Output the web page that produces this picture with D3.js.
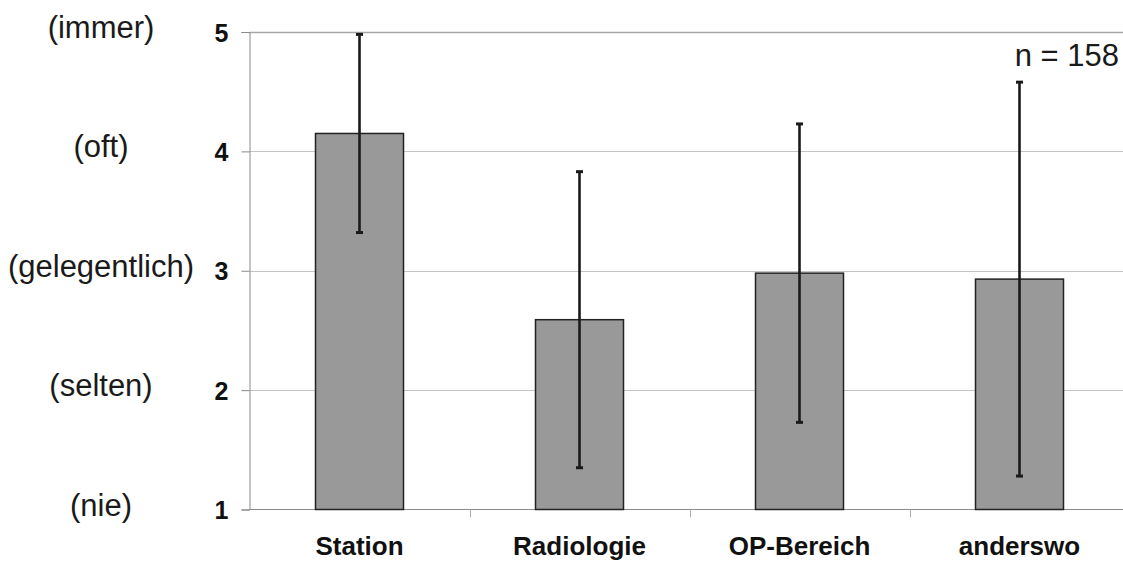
<!DOCTYPE html>
<html>
<head>
<meta charset="utf-8">
<script src="https://cdn.jsdelivr.net/npm/d3@7"></script>
<style>
  body { margin: 0; background: #fff; }
  svg { display: block; font-family: Arial, "Liberation Sans", sans-serif; }
</style>
</head>
<body>
<div class="container"></div>
<script>
// data
const categories = ['Station', 'Radiologie', 'OP-Bereich', 'anderswo']
const means = [4.15, 2.59, 2.98, 2.93]
const sds = [0.83, 1.24, 1.25, 1.65]
const yTicks = [1, 2, 3, 4, 5]
const scaleLabels = ['(nie)', '(selten)', '(gelegentlich)', '(oft)', '(immer)']
const note = 'n = 158'

const width = 1123
const height = 561

const svg = d3.select('.container')
    .append('svg')
    .attr('width', width)
    .attr('height', height)

const y = d3.scaleLinear().domain([1, 5]).range([509.5, 32])
const x = d3.scaleBand()
    .domain(categories)
    .range([249.5, 1129.5])
    .paddingInner(0.6)
    .paddingOuter(0.3)

const data = categories.map((c, i) => ({cat: c, mean: means[i], sd: sds[i]}))

// gridlines
svg.selectAll('.grid')
    .data(yTicks.filter(t => t > 1))
    .enter().append('line')
    .attr('x1', 249.5)
    .attr('x2', width)
    .attr('y1', d => Math.round(y(d)) + 0.5)
    .attr('y2', d => Math.round(y(d)) + 0.5)
    .style('stroke', d => d === 5 ? '#a6a6a6' : '#c4c4c4')
    .style('stroke-width', d => d === 5 ? 1.5 : 1)

// y axis
const yAxis = svg.append('g')
    .attr('transform', 'translate(249.5,0)')
    .call(d3.axisLeft(y).tickValues(yTicks).tickFormat(d3.format('d')).tickSize(8).tickPadding(13))
yAxis.select('.domain').style('stroke', '#8a8a8a')
yAxis.selectAll('.tick line').style('stroke', '#8a8a8a')
yAxis.selectAll('.tick text')
    .style('font-size', '25px')
    .style('font-weight', 'bold')
    .style('fill', '#111')
    .attr('dy', '0.36em')

// x axis
const xAxis = svg.append('g')
    .attr('transform', 'translate(0,' + (y(1)) + ')')
    .call(d3.axisBottom(x).tickSize(0).tickPadding(27))
xAxis.select('.domain').remove()
svg.append('line')
    .attr('x1', 249.5).attr('x2', width)
    .attr('y1', y(1)).attr('y2', y(1))
    .style('stroke', '#8a8a8a')
xAxis.selectAll('.tick text')
    .style('font-size', '26px')
    .style('font-weight', 'bold')
    .style('fill', '#111')

// category separators
const step = x.step()
svg.selectAll('.sep')
    .data(categories.slice(1))
    .enter().append('line')
    .attr('x1', d => Math.round(x(d) - step * 0.3) + 0.5)
    .attr('x2', d => Math.round(x(d) - step * 0.3) + 0.5)
    .attr('y1', y(1))
    .attr('y2', y(1) + 8)
    .style('stroke', '#b0b0b0')

// bars
svg.selectAll('.bar')
    .data(data)
    .enter().append('rect')
    .attr('x', d => x(d.cat))
    .attr('width', x.bandwidth())
    .attr('y', d => y(d.mean))
    .attr('height', d => y(1) - y(d.mean))
    .style('fill', '#999999')
    .style('stroke', '#222')
    .style('stroke-width', 1.5)

// error bars
const err = svg.selectAll('.err')
    .data(data)
    .enter().append('g')
    .attr('transform', d => 'translate(' + (x(d.cat) + x.bandwidth() / 2) + ',0)')
err.append('line')
    .attr('y1', d => y(d.mean + d.sd))
    .attr('y2', d => y(d.mean - d.sd))
    .style('stroke', '#1a1a1a')
    .style('stroke-width', 2.6)
err.selectAll('.cap')
    .data(d => [d.mean + d.sd, d.mean - d.sd])
    .enter().append('line')
    .attr('x1', -3.5).attr('x2', 3.5)
    .attr('y1', d => y(d)).attr('y2', d => y(d))
    .style('stroke', '#1a1a1a')
    .style('stroke-width', 3)

// verbal scale labels
svg.selectAll('.lbl')
    .data(yTicks)
    .enter().append('text')
    .attr('x', 101)
    .attr('y', d => y(d) + 6)
    .attr('text-anchor', 'middle')
    .style('font-size', '31px')
    .style('fill', '#1a1a1a')
    .text((d, i) => scaleLabels[i])

svg.append('text')
    .attr('x', 1119)
    .attr('y', 66)
    .attr('text-anchor', 'end')
    .style('font-size', '31px')
    .style('fill', '#1a1a1a')
    .text(note)
</script>
</body>
</html>
